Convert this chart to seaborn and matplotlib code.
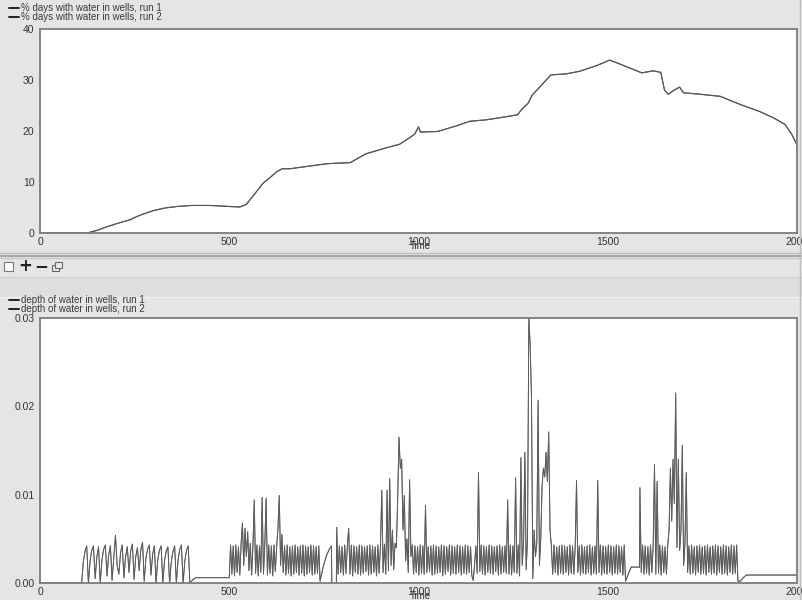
import numpy as np
import pandas as pd
import matplotlib
matplotlib.use("Agg")
import matplotlib.pyplot as plt
from matplotlib.lines import Line2D
from matplotlib.patches import Rectangle
import seaborn as sns

# ---------------- data ----------------
top_time = [0, 124, 150, 180, 210, 238, 255, 272, 300, 330, 362, 400, 450, 500, 528, 545,
            560, 590, 610, 625, 640, 660, 700, 760, 820, 860, 910, 950, 975, 990, 1000,
            1005, 1050, 1100, 1135, 1180, 1240, 1262, 1270, 1290, 1300, 1320, 1335, 1350,
            1390, 1425, 1470, 1505, 1530, 1553, 1590, 1620, 1640, 1650, 1660, 1675, 1690,
            1700, 1745, 1797, 1850, 1902, 1940, 1968, 1985, 2000]
top_run1 = [0, 0, 0.5, 1.3, 2.0, 2.6, 3.2, 3.7, 4.4, 4.9, 5.2, 5.4, 5.4, 5.2, 5.1, 5.6,
            7.0, 9.8, 11.0, 12.0, 12.6, 12.6, 13.0, 13.6, 13.8, 15.5, 16.6, 17.4, 18.6, 19.4, 20.8,
            19.8, 19.9, 21.0, 21.9, 22.2, 22.9, 23.2, 24.0, 25.5, 27.0, 28.6, 29.8, 31.0,
            31.2, 31.7, 32.8, 33.9, 33.2, 32.5, 31.4, 31.8, 31.5, 28.0, 27.2, 28.0, 28.6,
            27.5, 27.2, 26.8, 25.2, 23.8, 22.5, 21.3, 19.5, 17.3]
top_run2 = list(top_run1)  # run 2 coincides with run 1

# depth of water in wells (units of 1e-4)
lead_t = [0, 110]
lead_v = [0, 0]
seg1_range = (110, 396)
seg1_v = [0, 24, 36, 42, 0, 25, 37, 42, 5, 30, 41, 0, 26, 38, 43, 8, 32, 42, 3, 28, 54, 20,
          10, 34, 43, 6, 30, 41, 12, 36, 44, 4, 30, 40, 14, 38, 46, 2, 28, 38, 43, 9, 33, 42,
          0, 26, 37, 42, 0, 25, 36, 41, 0, 24, 36, 42, 0, 26, 38, 43, 0, 25, 37, 42, 0]
flat1_t = [397, 404, 412, 420, 499]
flat1_v = [0, 4, 6, 6, 6]
seg2_range = (500, 740)
seg2_v = [6, 43, 10, 42, 8, 43, 12, 41, 9, 44, 68, 20, 62, 30, 58, 14, 45, 9, 42, 94, 11, 43,
          8, 42, 12, 97, 10, 44, 96, 9, 43, 11, 42, 8, 43, 13, 41, 62, 99, 20, 55, 12, 42, 9,
          43, 11, 41, 8, 42, 10, 43, 12, 41, 9, 42, 11, 43, 8, 42, 10, 41, 12, 43, 9, 42, 10,
          41, 11, 42, 2]
rise2_t = [748, 756, 764, 770, 771, 783]
rise2_v = [18, 30, 38, 42, 0, 0]
seg3_range = (784, 1547)
seg3_v = [63, 10, 42, 12, 41, 9, 43, 11, 42, 62, 10, 43, 8, 42, 12, 41, 10, 43, 9, 42,
          11, 41, 13, 42, 9, 43, 10, 42, 12, 41, 8, 43, 11, 42, 105, 12, 44, 10, 105, 14,
          118, 20, 60, 15, 45, 40, 95, 165, 130, 140, 60, 99, 25, 50, 12, 117, 30, 43, 10, 42,
          12, 41, 9, 43, 11, 42, 10, 88, 12, 41, 13, 42, 9, 43, 10, 42, 11, 41, 12, 43,
          8, 42, 10, 41, 13, 43, 9, 42, 11, 41, 10, 43, 12, 42, 9, 41, 11, 43, 10, 42,
          12, 41, 8, 3, 20, 42, 11, 125, 13, 43, 10, 42, 9, 41, 12, 43, 11, 42, 10, 41,
          13, 42, 9, 43, 10, 41, 12, 42, 11, 94, 10, 43, 9, 42, 12, 119, 11, 43, 8, 142,
          20, 45, 148, 15, 50, 300, 270, 210, 5, 60, 30, 45, 207, 20, 50, 110, 130, 120, 148, 115,
          171, 60, 42, 10, 43, 12, 41, 9, 42, 11, 43, 10, 42, 12, 41, 9, 43, 11, 42, 10,
          41, 116, 12, 42, 9, 43, 11, 41, 10, 42, 12, 43, 9, 41, 11, 42, 10, 116, 12, 43,
          9, 42, 11, 41, 10, 43, 12, 42, 9, 41, 11, 43, 10, 42, 12, 41, 9, 43, 2]
flat3_t = [1556, 1562, 1584]
flat3_v = [12, 18, 18]
seg4_range = (1585, 1844)
seg4_v = [108, 12, 43, 10, 42, 11, 41, 9, 43, 12, 42, 134, 10, 115, 11, 43, 9, 42, 12, 41,
          10, 43, 60, 130, 70, 140, 90, 215, 40, 140, 37, 60, 156, 20, 45, 125, 12, 42, 10, 43,
          11, 41, 9, 42, 12, 43, 10, 41, 11, 42, 9, 43, 12, 41, 10, 42, 11, 43, 9, 42,
          12, 41, 10, 43, 11, 42, 9, 41, 12, 43, 10, 42, 11, 43, 2]
tail_t = [1850, 1858, 1866, 2000]
tail_v = [2, 6, 9, 9]

x_ticks = [0, 500, 1000, 1500, 2000]
x_labels = ["0", "500", "1000", "1500", "2000"]
top_yticks = [0, 10, 20, 30, 40]
bot_yticks = [0.0, 0.01, 0.02, 0.03]
bot_ylabels = ["0.00", "0.01", "0.02", "0.03"]

# ---------------- assemble ----------------
def seg(rng, vals):
    return list(np.linspace(rng[0], rng[1], len(vals))), list(vals)

parts = [(lead_t, lead_v), seg(seg1_range, seg1_v), (flat1_t, flat1_v),
         seg(seg2_range, seg2_v), (rise2_t, rise2_v), seg(seg3_range, seg3_v),
         (flat3_t, flat3_v), seg(seg4_range, seg4_v), (tail_t, tail_v)]
bt, bv = [], []
for t, v in parts:
    bt += list(t)
    bv += list(v)
bv = [v * 1e-4 for v in bv]

top_df = pd.DataFrame({"Time": top_time + top_time,
                       "val": top_run1 + top_run2,
                       "run": ["run 1"] * len(top_time) + ["run 2"] * len(top_time)})
bot_df = pd.DataFrame({"Time": bt + bt, "val": bv + bv,
                       "run": ["run 1"] * len(bt) + ["run 2"] * len(bt)})

# ---------------- figure ----------------
sns.set_style("white")
plt.rcParams["font.family"] = ["Liberation Sans", "DejaVu Sans"]
W, H = 802, 600
fig = plt.figure(figsize=(W / 100, H / 100), dpi=100)
fig.patch.set_facecolor("#e5e5e5")

def fx(x):
    return x / W

def fy(y):
    return 1 - y / H

# window chrome
fig.add_artist(Rectangle((0, fy(297)), 1, fy(277) - fy(297), transform=fig.transFigure,
                         facecolor="#dedede", edgecolor="none", zorder=0))
for yy, c, lw in [(253, "#bdbdbd", 1.0), (255.5, "#9a9a9a", 1.2), (258, "#c8c8c8", 1.0),
                  (277, "#d2d2d2", 1.0), (297, "#efefef", 1.0)]:
    fig.add_artist(Line2D([0, 1], [fy(yy), fy(yy)], transform=fig.transFigure, color=c, lw=lw))
fig.add_artist(Line2D([fx(800), fx(800)], [0, 1], transform=fig.transFigure, color="#bdbdbd", lw=1))
# toolbar icons
fig.add_artist(Rectangle((fx(4), fy(271)), 9 / W, 9 / H, transform=fig.transFigure,
                         facecolor="white", edgecolor="#777777", lw=0.8))
fig.text(fx(25), fy(266.5), "+", fontsize=12, fontweight="bold", color="#222222",
         ha="center", va="center", family="DejaVu Sans")
fig.text(fx(41), fy(266.5), "\u2212", fontsize=12, fontweight="bold", color="#222222",
         ha="center", va="center", family="DejaVu Sans")
fig.add_artist(Rectangle((fx(52), fy(271)), 7 / W, 6 / H, transform=fig.transFigure,
                         facecolor="#e8e8e8", edgecolor="#666666", lw=0.8))
fig.add_artist(Rectangle((fx(55), fy(268)), 7 / W, 6 / H, transform=fig.transFigure,
                         facecolor="#e8e8e8", edgecolor="#666666", lw=0.8))

ax1 = fig.add_axes([fx(40), fy(233), (797 - 40) / W, (233 - 29) / H])
ax2 = fig.add_axes([fx(40), fy(583), (797 - 40) / W, (583 - 318) / H])

sns.lineplot(data=top_df, x="Time", y="val", units="run", estimator=None, sort=False,
             color="#575757", lw=0.8, ax=ax1, legend=False)
sns.lineplot(data=bot_df, x="Time", y="val", units="run", estimator=None, sort=False,
             color="#5c5c5c", lw=0.65, ax=ax2, legend=False)

for ax, yt, yl, ylim, minor in [(ax1, top_yticks, [str(v) for v in top_yticks], (0, 40), 5),
                                (ax2, bot_yticks, bot_ylabels, (0, 0.03), 0.005)]:
    ax.set_facecolor("white")
    ax.set_xlim(0, 2000)
    ax.set_ylim(*ylim)
    ax.set_xticks(x_ticks)
    ax.set_xticklabels(x_labels)
    ax.set_yticks(yt)
    ax.set_yticklabels(yl)
    ax.set_xticks([250, 750, 1250, 1750], minor=True)
    ax.set_yticks(list(np.arange(ylim[0] + minor, ylim[1], minor * 2)), minor=True)
    ax.set_xlabel("")
    ax.set_ylabel("")
    for s in ax.spines.values():
        s.set_visible(True)
        s.set_color("#7c7c7c")
        s.set_linewidth(1.3)
    ax.tick_params(axis="x", which="both", direction="in", length=3, width=0.8,
                   colors="#7c7c7c", labelcolor="#333333", labelsize=7.5, pad=3)
    ax.tick_params(axis="y", which="both", direction="out", length=3, width=0.8,
                   colors="#7c7c7c", labelcolor="#333333", labelsize=7.5, pad=1)
    for lbl in ax.get_xticklabels() + ax.get_yticklabels():
        lbl.set_clip_on(False)

fig.text(fx(420), fy(246), "Time", fontsize=7, color="#333333", ha="center", va="center")
fig.text(fx(420), fy(596), "Time", fontsize=7, color="#333333", ha="center", va="center")

# legends
for y0, txt in [(8, "% days with water in wells, run 1"), (17, "% days with water in wells, run 2"),
                (300, "depth of water in wells, run 1"), (308.5, "depth of water in wells, run 2")]:
    fig.add_artist(Line2D([fx(9), fx(19)], [fy(y0), fy(y0)], transform=fig.transFigure,
                          color="#222222", lw=1.4))
    fig.text(fx(21), fy(y0), txt, fontsize=7, color="#3a3a3a", ha="left", va="center")

fig.savefig("out.png", dpi=100, facecolor=fig.get_facecolor())
